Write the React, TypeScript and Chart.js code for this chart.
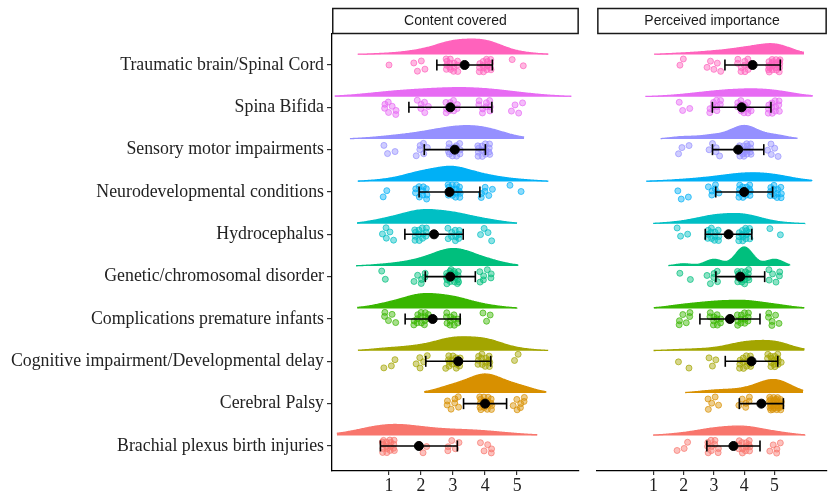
import React, { useEffect, useRef } from "react";
import { Chart, registerables } from "chart.js";

Chart.register(...registerables);

// ---------------- data ----------------
const CATEGORIES = [
  "Traumatic brain/Spinal Cord",
  "Spina Bifida",
  "Sensory motor impairments",
  "Neurodevelopmental conditions",
  "Hydrocephalus",
  "Genetic/chromosomal disorder",
  "Complications premature infants",
  "Cognitive impairment/Developmental delay",
  "Cerebral Palsy",
  "Brachial plexus birth injuries",
];

const COLORS = [
  "#FF62BC",
  "#E76BF3",
  "#9590FF",
  "#00B0F6",
  "#00BFC4",
  "#00BF7D",
  "#39B600",
  "#A3A500",
  "#D89000",
  "#F8766D",
];

const FACETS = ["Content covered", "Perceived importance"];
const LEVELS = [1, 2, 3, 4, 5];
const X_TICKS = [1, 2, 3, 4, 5];

// number of responses at each rating level 1..5 (rows follow CATEGORIES)
const CONTENT_COUNTS = [
  [1, 4, 14, 15, 2],
  [7, 6, 10, 9, 4],
  [3, 6, 13, 14, 0],
  [2, 10, 16, 6, 2],
  [5, 13, 10, 4, 0],
  [2, 6, 20, 7, 0],
  [5, 14, 11, 3, 0],
  [3, 5, 14, 13, 2],
  [0, 0, 7, 18, 7],
  [17, 3, 5, 5, 0],
];

const IMPORTANCE_COUNTS = [
  [0, 2, 5, 10, 19],
  [0, 3, 9, 12, 12],
  [0, 3, 5, 17, 5],
  [0, 3, 6, 14, 12],
  [0, 3, 12, 14, 2],
  [0, 2, 6, 17, 6],
  [0, 6, 10, 12, 6],
  [0, 2, 3, 13, 15],
  [0, 0, 5, 6, 26],
  [0, 3, 10, 13, 5],
];

// ---------------- helpers ----------------
const SERIF = "'Liberation Serif', 'Times New Roman', serif";
const SANS = "'Liberation Sans', Arial, sans-serif";

function expand(counts: number[]): number[] {
  const out: number[] = [];
  counts.forEach((c, i) => {
    for (let k = 0; k < c; k++) out.push(LEVELS[i]);
  });
  return out;
}
function mean(v: number[]) {
  return v.reduce((a, b) => a + b, 0) / v.length;
}
function sd(v: number[]) {
  const m = mean(v);
  return Math.sqrt(v.reduce((a, b) => a + (b - m) * (b - m), 0) / (v.length - 1));
}
function quantile(sorted: number[], p: number) {
  const h = (sorted.length - 1) * p;
  const lo = Math.floor(h);
  const hi = Math.ceil(h);
  return sorted[lo] + (h - lo) * (sorted[hi] - sorted[lo]);
}
function bwNrd0(v: number[]) {
  const s = [...v].sort((a, b) => a - b);
  const hi = sd(v);
  let lo = Math.min(hi, (quantile(s, 0.75) - quantile(s, 0.25)) / 1.34);
  if (!lo) lo = hi || Math.abs(v[0]) || 1;
  return 0.9 * lo * Math.pow(v.length, -0.2);
}
function kde(v: number[], bw: number, from: number, to: number, n: number) {
  const pts: { x: number; d: number }[] = [];
  const c = 1 / (v.length * bw * Math.sqrt(2 * Math.PI));
  for (let i = 0; i < n; i++) {
    const x = from + ((to - from) * i) / (n - 1);
    let s = 0;
    for (const xi of v) {
      const z = (x - xi) / bw;
      s += Math.exp(-0.5 * z * z);
    }
    pts.push({ x, d: s * c });
  }
  return pts;
}
function rgba(hex: string, a: number) {
  const r = parseInt(hex.slice(1, 3), 16);
  const g = parseInt(hex.slice(3, 5), 16);
  const b = parseInt(hex.slice(5, 7), 16);
  return `rgba(${r},${g},${b},${a})`;
}
function frac(x: number) {
  return x - Math.floor(x);
}

function buildDatasets(counts: number[][], facet: number) {
  const ADJUST = 1.7;
  const CUT = 1.75;
  const HALF = 0.45;
  const NUDGE = 0.25;
  const JX = 0.46;
  const JY = 0.34;
  const rows = counts.map((c) => {
    const v = expand(c);
    const bw = bwNrd0(v) * ADJUST;
    const from = Math.min(...v) - CUT * bw;
    const to = Math.max(...v) + CUT * bw;
    return { v, dens: kde(v, bw, from, to, 220), m: mean(v), s: sd(v) };
  });
  const maxD = Math.max(...rows.map((r) => Math.max(...r.dens.map((p) => p.d))));
  const ds: any[] = [];
  rows.forEach((r, i) => {
    const y = CATEGORIES.length - i;
    const base = y + NUDGE;
    const col = COLORS[i];
    ds.push({
      type: "line",
      data: r.dens.map((p) => ({ x: p.x, y: base + (HALF * p.d) / maxD })),
      borderColor: col,
      backgroundColor: col,
      borderWidth: 1.3,
      pointRadius: 0,
      tension: 0,
      fill: { value: base },
      order: 3,
    });
    ds.push({
      type: "scatter",
      data: r.v.map((val, k) => {
        const j = k + i * 41 + facet * 457;
        return {
          x: val + (frac(0.5 + j * 0.7548776662) - 0.5) * JX,
          y: y + (frac(0.5 + j * 0.569840291) - 0.5) * JY,
        };
      }),
      backgroundColor: rgba(col, 0.45),
      borderColor: rgba(col, 0.7),
      borderWidth: 1,
      pointRadius: 3,
      order: 2,
    });
    ds.push({
      type: "line",
      data: [
        { x: r.m - r.s, y },
        { x: r.m + r.s, y },
      ],
      borderColor: "#000",
      borderWidth: 1.6,
      pointStyle: "line",
      pointRadius: 5.5,
      pointRotation: 90,
      pointBorderWidth: 1.6,
      pointBorderColor: "#000",
      fill: false,
      order: 1,
    });
    ds.push({
      type: "scatter",
      data: [{ x: r.m, y }],
      backgroundColor: "#000",
      borderColor: "#000",
      pointRadius: 4.5,
      order: 0,
    });
  });
  return ds;
}

function stripPlugin(label: string) {
  return {
    id: "strip",
    afterDraw(chart: any) {
      const { ctx, chartArea } = chart;
      ctx.save();
      const l = chartArea.left + 0.75;
      const w = chartArea.right - chartArea.left - 1.5;
      ctx.fillStyle = "#fff";
      ctx.fillRect(l, 8.5, w, 25);
      ctx.strokeStyle = "#1a1a1a";
      ctx.lineWidth = 1.5;
      ctx.strokeRect(l, 8.5, w, 25);
      ctx.fillStyle = "#1a1a1a";
      ctx.font = `14px ${SANS}`;
      ctx.textAlign = "center";
      ctx.textBaseline = "middle";
      ctx.fillText(label, (chartArea.left + chartArea.right) / 2, 21.5);
      ctx.restore();
    },
  };
}

type PanelProps = {
  facet: number;
  counts: number[][];
  left: number;
  width: number;
  xMin: number;
  xMax: number;
  showY: boolean;
  padLeft: number;
  padRight: number;
};

function Panel(p: PanelProps) {
  const ref = useRef<HTMLCanvasElement | null>(null);
  useEffect(() => {
    if (!ref.current) return;
    const chart = new Chart(ref.current, {
      type: "scatter",
      data: { datasets: buildDatasets(p.counts, p.facet) },
      options: {
        responsive: false,
        maintainAspectRatio: false,
        animation: false,
        events: [],
        layout: { padding: { top: 34, left: p.padLeft, right: p.padRight, bottom: 0 } },
        plugins: { legend: { display: false }, tooltip: { enabled: false } },
        scales: {
          x: {
            type: "linear",
            min: p.xMin,
            max: p.xMax,
            afterBuildTicks: (s: any) => {
              s.ticks = X_TICKS.map((v) => ({ value: v }));
            },
            afterFit: (s: any) => {
              s.height = 23;
            },
            grid: { drawOnChartArea: false, drawTicks: true, tickLength: 4, color: "#333", lineWidth: 1.2 },
            border: { display: true, color: "#000", width: 1.3 },
            ticks: {
              font: { family: SERIF, size: 17.8 },
              color: "#222",
              padding: 1,
              maxRotation: 0,
              autoSkip: false,
              callback: (v: any) => String(v),
            },
          },
          y: {
            type: "linear",
            display: p.showY,
            min: 0.409,
            max: 10.732,
            afterBuildTicks: (s: any) => {
              s.ticks = CATEGORIES.map((_, i) => ({ value: i + 1 }));
            },
            afterFit: (s: any) => {
              s.width = p.showY ? 332 : 0;
            },
            grid: { drawOnChartArea: false, drawTicks: true, tickLength: 5, color: "#333", lineWidth: 1.2 },
            border: { display: true, color: "#000", width: 1.3 },
            ticks: {
              font: { family: SERIF, size: 17.8 },
              color: "#222",
              padding: 3,
              autoSkip: false,
              callback: (v: any) => CATEGORIES[CATEGORIES.length - Number(v)],
            },
          },
        },
      } as any,
      plugins: [stripPlugin(FACETS[p.facet])],
    });
    return () => chart.destroy();
  }, []);
  return (
    <canvas
      ref={ref}
      width={p.width}
      height={494}
      style={{ position: "absolute", left: p.left, top: 0, width: p.width, height: 494 }}
    />
  );
}

export default function App() {
  return (
    <div
      style={{
        position: "absolute",
        left: 0,
        top: 0,
        width: 834,
        height: 494,
        overflow: "hidden",
        background: "#fff",
      }}
    >
      <Panel
        facet={0}
        counts={CONTENT_COUNTS}
        left={0}
        width={586}
        xMin={-0.78}
        xMax={6.93}
        showY={true}
        padLeft={0}
        padRight={4}
      />
      <Panel
        facet={1}
        counts={IMPORTANCE_COUNTS}
        left={590}
        width={244}
        xMin={-0.858}
        xMax={6.732}
        showY={false}
        padLeft={2}
        padRight={1}
      />
    </div>
  );
}
